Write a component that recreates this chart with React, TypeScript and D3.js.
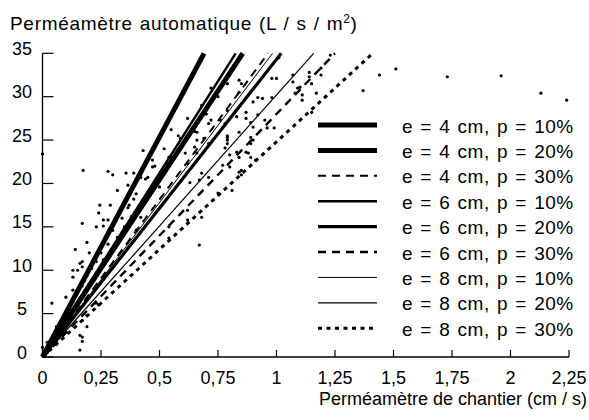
import React from 'react'
import * as d3 from 'd3'

// measured values
const xTicks = [0, 0.25, 0.5, 0.75, 1, 1.25, 1.5, 1.75, 2, 2.25]
const xTickLabels = ['0', '0,25', '0,5', '0,75', '1', '1,25', '1,5', '1,75', '2', '2,25']
const yTicks = [0, 5, 10, 15, 20, 25, 30, 35]

const seriesLabels = [
  'e = 4 cm, p = 10%',
  'e = 4 cm, p = 20%',
  'e = 4 cm, p = 30%',
  'e = 6 cm, p = 10%',
  'e = 6 cm, p = 20%',
  'e = 6 cm, p = 30%',
  'e = 8 cm, p = 10%',
  'e = 8 cm, p = 20%',
  'e = 8 cm, p = 30%',
]
// slope of each fitted line (L/s/m2 per cm/s)
const seriesSlopes = [50.7, 40.9, 36.3, 42.4, 34.3, 28.0, 35.6, 30.2, 24.8]

// line look per series
const lineStyles = [
  { w: 5, dash: null },
  { w: 5, dash: null },
  { w: 2, dash: '8,6' },
  { w: 2.5, dash: null },
  { w: 3.2, dash: null },
  { w: 2.4, dash: '8,6' },
  { w: 1, dash: null },
  { w: 1.2, dash: null },
  { w: 3, dash: '4,4.5' },
]

// field measurements [chantier, automatique]
const points: [number, number][] = [
  [0.01, 0.3], [0.01, 0.6], [0.02, 0.5], [0.02, 1.0], [0.02, 0.8], [0.03, 1.2], [0.03, 1.5], [0.03, 0.9],
  [0.04, 1.8], [0.04, 1.4], [0.04, 2.0], [0.05, 2.2], [0.05, 1.7], [0.05, 2.6], [0.06, 2.4], [0.06, 3.0],
  [0.06, 2.0], [0.07, 3.2], [0.07, 2.6], [0.07, 3.6], [0.08, 3.0], [0.08, 3.8], [0.08, 4.2], [0.09, 3.4],
  [0.09, 4.4], [0.09, 4.0], [0.1, 4.8], [0.1, 3.8], [0.1, 5.2], [0.11, 4.4], [0.11, 5.6], [0.12, 4.6],
  [0.12, 5.4], [0.12, 6.0], [0.13, 5.2], [0.13, 6.4], [0.14, 5.8], [0.14, 7.0], [0.15, 6.2], [0.15, 7.4],
  [0.16, 6.8], [0.17, 8.2], [0.18, 7.6], [0.18, 8.8], [0.19, 9.4], [0.2, 8.4], [0.21, 10.2], [0.22, 9.2],
  [0.23, 11.0], [0.24, 10.0], [0.25, 12.0], [0.26, 11.2], [0.28, 13.0], [0.3, 12.4], [0.3, 14.6],
  [0.32, 13.8], [0.34, 16.0], [0.35, 15.0], [0.37, 17.5], [0.38, 16.2], [0.4, 18.8], [0.42, 17.6],
  [0.44, 20.5], [0.45, 19.0], [0.48, 22.0], [0.5, 21.0], [0.52, 24.0], [0.55, 23.0], [0.58, 25.5],
  [0.6, 24.5], [0.62, 27.5], [0.65, 26.0], [0.68, 29.0], [0.7, 28.0], [0.72, 31.0], [0.75, 30.0],
  [0.0, 23.4], [0.174, 21.5], [0.28, 21.4], [0.3, 21.0], [0.357, 21.2], [0.39, 21.2], [0.43, 23.8],
  [0.32, 19.2], [0.245, 17.5], [0.29, 17.5], [0.24, 16.6], [0.17, 15.4], [0.23, 15.0], [0.26, 15.8],
  [0.26, 15.1], [0.28, 15.8], [0.14, 12.4], [0.19, 13.2], [0.2, 12.0], [0.15, 10.0], [0.17, 10.4],
  [0.17, 11.0], [0.04, 6.2], [0.1, 6.9], [0.19, 3.5], [0.17, 2.3], [0.17, 1.8], [0.16, 0.8], [0.23, 6.2],
  [0.67, 12.9], [0.5, 19.6], [0.47, 22.7], [0.53, 22.3], [0.59, 25.2], [0.62, 22.3], [0.67, 20.4],
  [0.71, 24.6], [0.79, 25.3], [0.79, 24.6], [0.84, 23.0], [0.88, 23.5], [0.84, 21.3], [0.68, 16.1],
  [0.62, 15.8], [0.81, 19.2], [0.75, 18.9], [0.365, 19.8], [0.39, 18.2], [0.365, 17.2], [0.42, 20.7],
  [0.45, 20.7], [0.49, 20.4], [0.47, 21.9], [0.54, 23.0], [0.46, 18.7], [0.4, 14.6], [0.42, 16.1],
  [0.54, 15.0], [0.54, 13.7], [0.55, 26.2], [0.79, 31.5], [0.85, 31.5], [0.84, 30.5], [0.9, 29.4],
  [0.87, 28.2], [0.87, 27.5], [0.83, 27.7], [0.79, 28.4], [0.78, 26.9], [0.76, 27.3], [0.72, 27.3],
  [0.71, 26.9], [0.66, 25.9], [0.66, 25.0], [0.65, 24.2], [0.69, 25.2], [0.79, 25.5], [0.79, 25.0],
  [0.78, 24.1], [0.84, 25.9], [0.89, 27.0], [0.92, 29.9], [0.94, 29.8], [0.98, 32.1], [0.92, 27.9],
  [0.9, 26.5], [0.95, 27.3], [0.96, 26.4], [0.89, 24.6], [0.9, 25.0], [0.83, 23.6], [1.07, 32.5],
  [1.07, 31.7], [1.1, 31.1], [1.08, 30.4], [1.11, 29.6], [1.14, 32.8], [1.14, 32.3], [1.15, 31.5],
  [1.15, 28.2], [0.99, 26.4], [0.89, 25.3], [1.01, 34.5], [1.23, 34.8], [1.19, 32.5], [1.19, 33.3],
  [1.09, 31.0], [1.11, 30.2], [1.17, 30.4], [1.44, 32.5], [1.51, 33.2], [1.37, 30.7], [1.73, 32.3],
  [1.96, 32.4], [2.13, 30.4], [2.24, 29.6], [0.62, 16.9], [0.63, 20.1], [0.71, 20.7], [0.77, 22.1],
  [0.8, 21.9], [0.8, 23.3], [0.85, 21.5], [0.85, 21.0], [0.89, 23.0], [0.91, 22.7], [0.87, 23.6],
  [0.61, 23.5], [0.68, 21.2], [0.66, 23.5], [0.13, 10.0], [0.13, 9.2], [0.16, 10.8], [0.13, 7.7],
  [0.16, 2.5], [0.17, 4.2], [0.24, 6.0], [0.19, 4.8], [0.0, 1.1], [0.02, 1.7], [0.06, 3.5], [0.08, 3.1],
  [0.07, 2.2], [0.84, 31.9], [1.0, 32.1], [0.98, 29.9],
]

const font = 'Liberation Sans, Arial, Helvetica, sans-serif'

export default function App() {
  const width = 589
  const height = 420
  const x = d3.scaleLinear().domain([0, 2.25]).range([42.5, 569])
  const y = d3.scaleLinear().domain([0, 35]).range([357, 53.3])
  const line = d3
    .line<[number, number]>()
    .x((d) => x(d[0]))
    .y((d) => y(d[1]))

  return (
    <svg
      width={width}
      height={height}
      style={{ position: 'absolute', left: 0, top: 0, background: '#fff' }}
      fontFamily={font}
    >
      {/* scatter */}
      {points.map((p, i) => (
        <circle key={i} cx={x(p[0])} cy={y(p[1])} r={1.6} fill="#000" />
      ))}

      {/* fitted lines, stopped at the top of the axis */}
      {seriesSlopes.map((k, i) => (
        <path
          key={i}
          d={line([[0, 0], [35 / k, 35]]) || ''}
          fill="none"
          stroke="#000"
          strokeWidth={lineStyles[i].w}
          strokeDasharray={lineStyles[i].dash || undefined}
        />
      ))}

      {/* axes */}
      <line x1={x(0)} x2={x(0)} y1={y(0)} y2={y(35)} stroke="#000" strokeWidth={1.3} />
      <line x1={x(0)} x2={x(2.25)} y1={y(0)} y2={y(0)} stroke="#000" strokeWidth={1.3} />
      {yTicks.map((t) => (
        <g key={t}>
          <line x1={x(0)} x2={x(0) + 11} y1={y(t)} y2={y(t)} stroke="#000" strokeWidth={1.2} />
          <text x={22} y={y(t) + 1.5} textAnchor="middle" fontSize={18}>
            {t}
          </text>
        </g>
      ))}
      {xTicks.map((t, i) => (
        <g key={t}>
          <line x1={x(t)} x2={x(t)} y1={y(0)} y2={y(0) - 7} stroke="#000" strokeWidth={1.2} />
          <text x={x(t)} y={384} textAnchor="middle" fontSize={18}>
            {xTickLabels[i]}
          </text>
        </g>
      ))}

      {/* axis titles */}
      <text x={10} y={29.5} fontSize={19} letterSpacing={0.7} wordSpacing={1}>
        Perméamètre automatique (L / s / m
        <tspan fontSize={12} dy={-7}>2</tspan>
        <tspan dy={7}>)</tspan>
      </text>
      <text x={587} y={405} textAnchor="end" fontSize={18}>
        Perméamètre de chantier (cm / s)
      </text>

      {/* legend */}
      {seriesLabels.map((label, i) => {
        const ly = 125 + i * 25.4
        return (
          <g key={label}>
            <line
              x1={318}
              x2={377}
              y1={ly}
              y2={ly}
              stroke="#000"
              strokeWidth={lineStyles[i].w}
              strokeDasharray={lineStyles[i].dash || undefined}
            />
            <text x={402} y={ly + 7.5} fontSize={19} letterSpacing={0.5} wordSpacing={1.5}>
              {label}
            </text>
          </g>
        )
      })}
    </svg>
  )
}
